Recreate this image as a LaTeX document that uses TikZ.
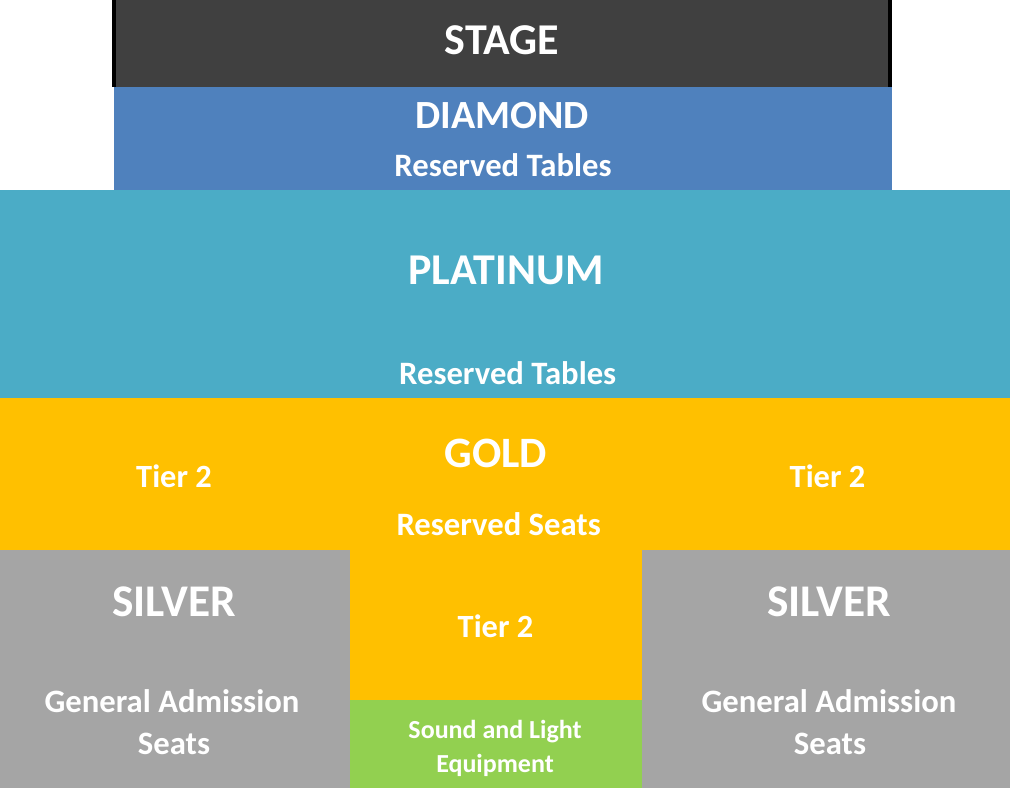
\documentclass[tikz,border=0pt]{standalone}
\usepackage{fontspec}
\setmainfont{Carlito}
\definecolor{stagec}{HTML}{404040}
\definecolor{diamondc}{HTML}{4F81BD}
\definecolor{platc}{HTML}{4BACC6}
\definecolor{goldc}{HTML}{FFC000}
\definecolor{silverc}{HTML}{A5A5A5}
\definecolor{greenc}{HTML}{92D050}
\tikzset{
  lbl/.style={text=white, font=\bfseries, anchor=base, inner sep=0pt, align=center},
  bigsz/.style={lbl, font=\fontsize{#1}{36}\selectfont\bfseries},
  mid/.style={lbl, font=\fontsize{24.5}{28}\selectfont\bfseries},
  tier/.style={lbl, font=\fontsize{24.3}{28}\selectfont\bfseries},
  small/.style={lbl, font=\fontsize{19.5}{25.5}\selectfont\bfseries}
}
\begin{document}
\begin{tikzpicture}[x=0.75pt,y=-0.75pt]
\useasboundingbox (0,0) rectangle (1010,788);
% stage
\fill[stagec] (112,0) rectangle (892,87);
\fill[black] (112,0) rectangle (116,87);
\fill[black] (888,0) rectangle (892,87);
% diamond
\fill[diamondc] (114,87) rectangle (892,190);
% platinum
\fill[platc] (0,190) rectangle (1010,398);
% gold (T shape)
\fill[goldc] (0,398) -- (1010,398) -- (1010,550) -- (642,550) -- (642,700) -- (350,700) -- (350,550) -- (0,550) -- cycle;
% silver
\fill[silverc] (0,550) rectangle (350,788);
\fill[silverc] (642,550) rectangle (1010,788);
% sound
\fill[greenc] (350,700) rectangle (642,788);

\node[bigsz=33] (stage) at (502,55) {STAGE};
\node[bigsz=30] (diamond) at (502,128.5) {DIAMOND};
\node[mid] (diamondres) at (503,176) {Reserved Tables};
\node[bigsz=33] (platinum) at (506,284) {PLATINUM};
\node[mid] (platres) at (507.7,384.5) {Reserved Tables};
\node[bigsz=32.5] (gold) at (496,467) {GOLD};
\node[mid] (goldres) at (498.7,535.5) {Reserved Seats};
\node[tier] (tierl) at (174,487) {Tier 2};
\node[tier] (tierr) at (827.5,487) {Tier 2};
\node[tier] (tierm) at (495.5,637) {Tier 2};
\node[small] (sound) at (495,738.5) {Sound and Light};
\node[small] (equip) at (495,772.7) {Equipment};
\node[bigsz=34] (silverl) at (174,616) {SILVER};
\node[mid] (genl) at (172,712.5) {General Admission};
\node[mid] (seatsl) at (174,754.5) {Seats};
\node[bigsz=34] (silverr) at (829,616) {SILVER};
\node[mid] (genr) at (829,712.5) {General Admission};
\node[mid] (seatsr) at (830,754.5) {Seats};
\end{tikzpicture}
\end{document}
